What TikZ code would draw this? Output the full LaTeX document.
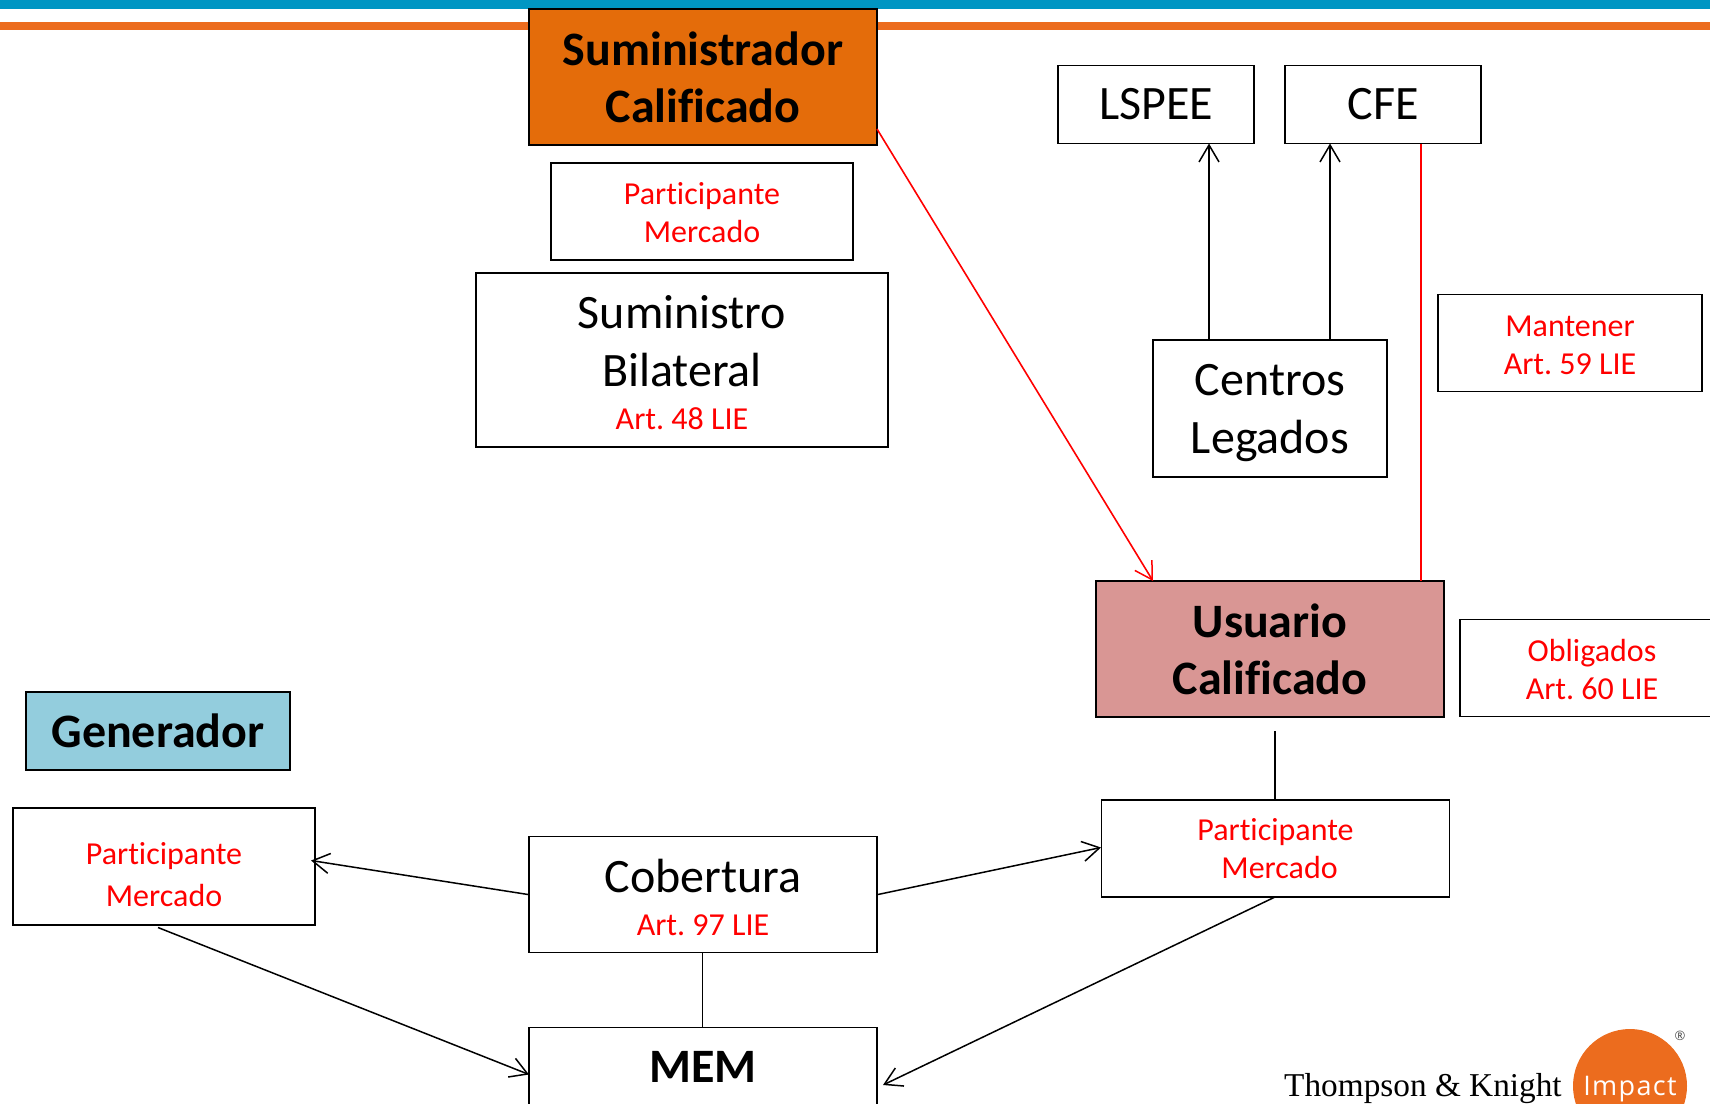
\documentclass[tikz,border=0pt]{standalone}
\usepackage{fontspec}
\setmainfont[Ligatures=NoCommon]{Carlito}
\newfontfamily\logofont{Liberation Serif}
\newfontfamily\logosans[LetterSpace=5]{Open Sans}
\usetikzlibrary{arrows.meta}
\definecolor{topblue}{HTML}{0096C3}
\definecolor{toporange}{HTML}{EC6C1E}
\definecolor{sumorange}{HTML}{E46C0A}
\definecolor{usrose}{HTML}{D99694}
\definecolor{genblue}{HTML}{93CDDD}
\definecolor{redtxt}{HTML}{FF0000}
\tikzset{
  x=1pt,y=-1pt,
  boxn/.style={draw=black,line width=1.8pt,fill=white,rectangle,inner sep=0pt,align=center,text=black},
  big/.style={font=\fontsize{48}{58}\selectfont},
  bigb/.style={font=\fontsize{48}{57}\selectfont\bfseries},
  redn/.style={font=\fontsize{32}{38}\selectfont,text=redtxt},
  arr/.style={-{Straight Barb[length=17pt,width=20pt,line width=1.5pt]},line width=1.5pt,black},
  rarr/.style={-{Straight Barb[length=17pt,width=20pt,line width=1.5pt]},line width=1.6pt,redtxt},
  plainc/.style={line width=1.5pt,black},
  redc/.style={line width=2pt,redtxt},
}
\newcommand{\artl}[1]{{\fontsize{32}{34}\selectfont\color{redtxt}#1}}
\newcommand{\tp}[1]{\rule{0pt}{#1pt}}
\frenchspacing
\begin{document}
\begin{tikzpicture}
\useasboundingbox (0,0) rectangle (1710,1103);
\clip (0,0) rectangle (1710,1103);
\fill[topblue] (0,0) rectangle (1710,8.5);
\fill[toporange] (0,22) rectangle (1710,30);

% nodes
\node[boxn,bigb,fill=sumorange,minimum width=348pt,minimum height=136pt] (sc) at (703,77) {Suministrador\\Calificado};
\node[boxn,redn,minimum width=302pt,minimum height=97pt] (pm1) at (702,211.5) {\tp{24}Participante\\Mercado};
\node[boxn,big,minimum width=412pt,minimum height=174pt] (sb) at (682,360) {\tp{38}Suministro\\Bilateral\\[-15pt]\artl{Art. 48 LIE}};
\node[boxn,big,minimum width=196pt,minimum height=78pt] (lspee) at (1156,104.5) {\raisebox{-1pt}{LSPEE}};
\node[boxn,big,minimum width=196pt,minimum height=78pt] (cfe) at (1383,104.5) {\raisebox{-1pt}{CFE}};
\node[boxn,big,minimum width=234pt,minimum height=137pt] (cl) at (1270,408.5) {\tp{40}Centros\\Legados};
\node[boxn,redn,minimum width=264pt,minimum height=97pt] (man) at (1570,343) {\tp{25}Mantener\\Art. 59 LIE};
\node[boxn,bigb,fill=usrose,minimum width=348pt,minimum height=136pt] (uc) at (1270,649) {Usuario\\Calificado};
\node[boxn,redn,minimum width=264pt,minimum height=97pt] (obl) at (1592,668) {\tp{25}Obligados\\Art. 60 LIE};
\node[boxn,bigb,fill=genblue,minimum width=264pt,minimum height=78pt] (gen) at (158,731) {Generador};
\node[boxn,font=\fontsize{32}{42}\selectfont,text=redtxt,minimum width=302pt,minimum height=117pt] (pm2) at (164,866.5) {\tp{38}Participante\\Mercado};
\node[boxn,big,minimum width=348pt,minimum height=116pt] (cob) at (703,894.5) {\tp{40}Cobertura\\[-15pt]\artl{Art. 97 LIE}};
\node[boxn,redn,minimum width=348pt,minimum height=97pt] (pm3) at (1275.5,848.5) {Participante\\\hspace*{8pt}Mercado};
\node[boxn,minimum width=348pt,minimum height=150pt] (mem) at (703,1102.5) {};
\node[font=\fontsize{48}{54}\selectfont\bfseries,anchor=base] (memt) at (703,1082) {MEM};

% connector ends
\coordinate (scr) at (877,129);
\coordinate (uca) at (1153,581);
\coordinate (lsp) at (1209,143.5);
\coordinate (cla) at (1209,339);
\coordinate (cfa) at (1330,143.5);
\coordinate (clb) at (1330,339);
\coordinate (cfr) at (1421,143.5);
\coordinate (ucr) at (1421,581);
\coordinate (ucb) at (1275,731);
\coordinate (pm3t) at (1275,800);
\coordinate (pm2r) at (311,860.5);
\coordinate (pm3l) at (1101,847.5);
\coordinate (cobm) at (702.5,952);
\coordinate (memm) at (702.5,1027);
\coordinate (pm2b) at (158,927.5);
\coordinate (meml) at (529,1074.5);
\coordinate (pm3b) at (1275,897);
\coordinate (memr) at (883,1085);

% connectors
\draw[rarr] (scr) -- (uca);
\draw[arr] (cla) -- (lsp);
\draw[arr] (clb) -- (cfa);
\draw[redc] (ucr) -- (cfr);
\draw[plainc] (ucb) -- (pm3t);
\draw[arr] (cob.west) -- (pm2r);
\draw[arr] (cob.east) -- (pm3l);
\draw[plainc] (cobm) -- (memm);
\draw[arr] (pm2b) -- (meml);
\draw[arr] (pm3b) -- (memr);

% logo
\fill[toporange] (1630,1086) circle (57);
\node[anchor=base west,inner sep=0pt,font=\logofont\fontsize{33.3}{40}\selectfont] (tk) at (1284,1096) {Thompson \& Knight};
\node[anchor=base,inner sep=0pt,text=white,font=\logosans\fontsize{27}{30}\selectfont] (imp) at (1630,1095) {Impact};
\node[inner sep=0pt,text=black!70,font=\logosans\fontsize{13}{14}\selectfont] (reg) at (1680,1036) {®};
\end{tikzpicture}
\end{document}
